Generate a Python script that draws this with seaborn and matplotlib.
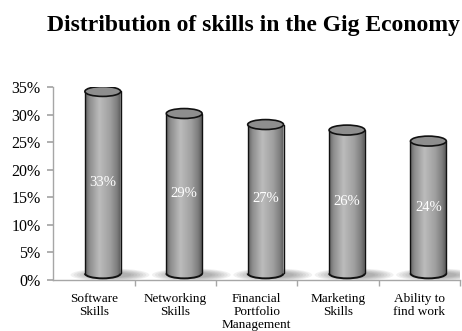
import numpy as np
import pandas as pd
import matplotlib
matplotlib.use("Agg")
import matplotlib.pyplot as plt
import seaborn as sns
from matplotlib.patches import Ellipse, Arc, PathPatch
from matplotlib.path import Path
from matplotlib.colors import LinearSegmentedColormap
from matplotlib.ticker import PercentFormatter, FixedLocator

# ---- data ----
categories = ["Software\nSkills", "Networking\nSkills", "Financial\nPortfolio\nManagement",
              "Marketing\nSkills", "Ability to\nfind work"]
values = [0.33, 0.29, 0.27, 0.26, 0.24]
value_labels = ["33%", "29%", "27%", "26%", "24%"]
yticks = [0.0, 0.05, 0.10, 0.15, 0.20, 0.25, 0.30, 0.35]
title = "Distribution of skills in the Gig Economy"

sns.set_theme(style="white")
plt.rcParams['font.family'] = ['Liberation Serif', 'DejaVu Serif']
plt.rcParams['text.color'] = 'black'

fig, ax = plt.subplots(figsize=(4.62, 3.31), dpi=100)
fig.subplots_adjust(left=0.115, right=0.996, bottom=0.154, top=0.737)

df = pd.DataFrame({"skill": categories, "share": values})
sns.barplot(data=df, x="skill", y="share", ax=ax, width=0.44, color="#999999",
            edgecolor="none", errorbar=None)

ax.set_xlim(-0.5, 4.5)
ax.set_ylim(0, 0.35)

cmap = LinearSegmentedColormap.from_list(
    "cyl", [(0.0, "#5e5e5e"), (0.12, "#8c8c8c"), (0.4, "#bcbcbc"),
            (0.7, "#a0a0a0"), (0.9, "#7c7c7c"), (1.0, "#5a5a5a")])
grad = np.linspace(0, 1, 256).reshape(1, -1)

shift_x = 0.11      # 3D perspective offset
base = 0.012        # cylinder base lift
eh = 0.018          # ellipse height in data units

for p, lab in zip(ax.patches, value_labels):
    x0 = p.get_x() + shift_x
    w = p.get_width()
    h = p.get_height()
    cx = x0 + w / 2
    yb = base
    yt = base + h
    p.set_visible(False)

    # shadow at base
    for k in range(7):
        sw = w * (2.2 - 0.17 * k)
        sh = eh * (1.3 - 0.12 * k)
        ax.add_patch(Ellipse((cx + w * 0.2, yb - eh * 0.15), sw, sh,
                             facecolor="#505050", edgecolor="none", alpha=0.08, zorder=2))

    # body path: rectangle + lower half-ellipse
    th = np.linspace(np.pi, 2 * np.pi, 60)
    arc_x = cx + (w / 2) * np.cos(th)
    arc_y = yb + (eh / 2) * np.sin(th)
    verts = [(x0 + w, yt), (x0, yt)] + list(zip(arc_x, arc_y)) + [(x0 + w, yt)]
    codes = [Path.MOVETO] + [Path.LINETO] * (len(verts) - 2) + [Path.CLOSEPOLY]
    body = PathPatch(Path(verts, codes), facecolor="none", edgecolor="none", zorder=3)
    ax.add_patch(body)
    im = ax.imshow(grad, cmap=cmap, aspect="auto", extent=(x0, x0 + w, yb - eh, yt),
                   zorder=3, interpolation="bicubic")
    im.set_clip_path(body)

    # outlines
    ax.plot([x0, x0], [yb, yt], color="#111111", lw=1.0, zorder=4)
    ax.plot([x0 + w, x0 + w], [yb, yt], color="#111111", lw=1.0, zorder=4)
    ax.add_patch(Arc((cx, yb), w, eh, theta1=180, theta2=360, color="#111111",
                     lw=1.4, zorder=4))
    ax.add_patch(Ellipse((cx, yt), w, eh, facecolor="#8e8e8e", edgecolor="#111111",
                         lw=1.2, zorder=5))

    ax.text(cx, yb + h / 2, lab, color="white", ha="center", va="center",
            fontsize=10.5, zorder=6)

ax.set_xlim(-0.5, 4.5)
ax.set_ylim(0, 0.35)

# axes styling
sns.despine(ax=ax, top=True, right=True)
for s in ["left", "bottom"]:
    ax.spines[s].set_color("#a6a6a6")
    ax.spines[s].set_linewidth(1.0)
ax.set_yticks(yticks)
ax.yaxis.set_major_formatter(PercentFormatter(1.0, decimals=0))
ax.tick_params(axis="y", which="major", left=True, length=4, color="#a6a6a6",
               labelsize=11.5, pad=5, labelcolor="black")
ax.tick_params(axis="x", which="major", bottom=False, labelsize=9.5, pad=3,
               labelcolor="black")
ax.xaxis.set_minor_locator(FixedLocator([0.5, 1.5, 2.5, 3.5, 4.5]))
ax.tick_params(axis="x", which="minor", bottom=True, length=4, color="#a6a6a6")
for t in ax.get_xticklabels():
    t.set_linespacing(1.15)
ax.set_xlabel("")
ax.set_ylabel("")
ax.grid(False)

fig.text(0.548, 0.924, title, ha="center", va="center", fontsize=17,
         fontweight="bold", color="black")

fig.savefig("out.png", dpi=100)
